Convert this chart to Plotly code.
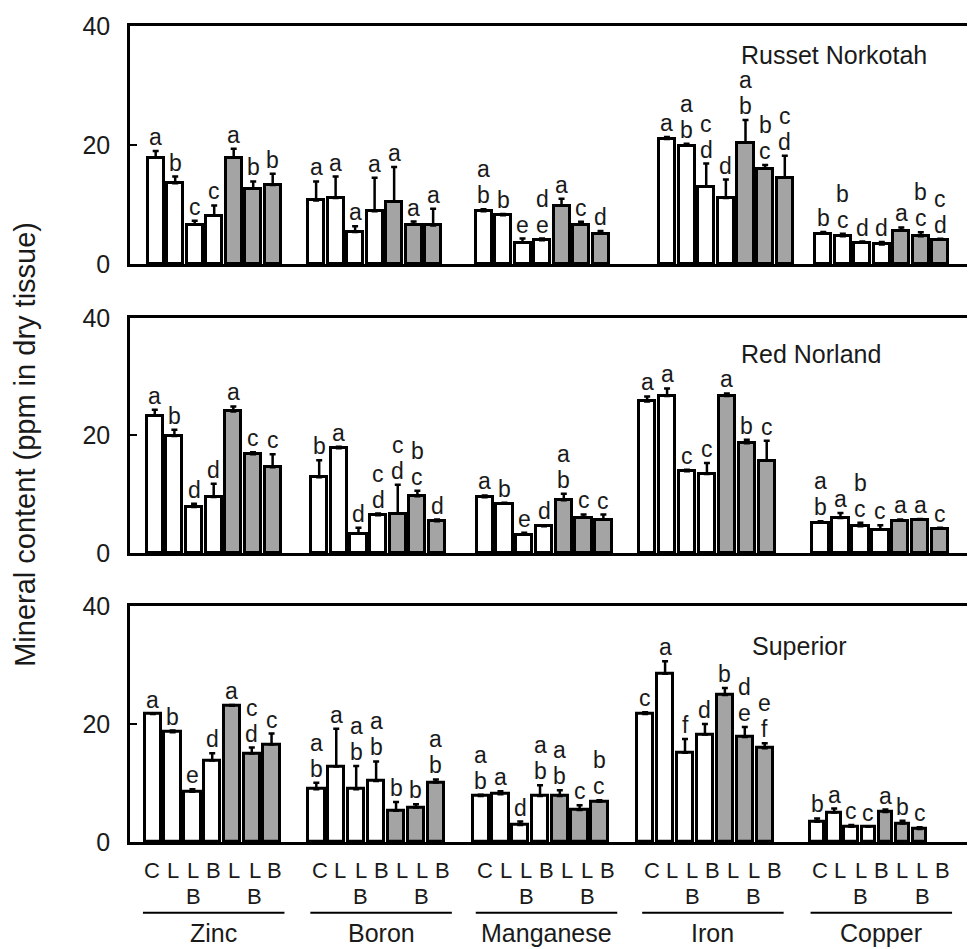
import plotly.graph_objects as go

# ---------------- data ----------------
minerals = ["Zinc", "Boron", "Manganese", "Iron", "Copper"]
row1_labels = ["C", "L", "L", "B", "L", "L", "B"]
row2_labels = ["", "", "B", "", "", "B", ""]
grey_flags = [False, False, False, False, True, True, True]
cultivars = ["Russet Norkotah", "Red Norland", "Superior"]

russet_mean = [
    [17.9, 13.6, 6.6, 8.15, 17.9, 12.7, 13.3],
    [10.7, 11.1, 5.4, 8.9, 10.5, 6.6, 6.5],
    [8.9, 8.2, 3.6, 4.0, 9.8, 6.6, 5.1],
    [21.0, 19.9, 13.0, 11.1, 20.4, 16.0, 14.5],
    [5.1, 4.7, 3.6, 3.3, 5.6, 4.7, 4.1],
]
russet_err = [
    [1.1, 1.1, 0.7, 1.7, 1.5, 1.2, 1.9],
    [3.2, 3.6, 0.95, 5.6, 5.8, 0.56, 2.8],
    [0.3, 0.2, 0.7, 0.3, 1.2, 0.5, 0.45],
    [0.35, 0.3, 3.9, 3.1, 3.8, 0.67, 3.7],
    [0.3, 0.4, 0.2, 0.4, 0.56, 0.67, 0.15],
]
russet_letters = [
    ["a", "b", "c", "c", "a", "b", "b"],
    ["a", "a", "a", "a", "a", "a", "a"],
    ["ab", "b", "e", "de", "a", "c", "d"],
    ["a", "ab", "cd", "d", "ab", "bc", "cd"],
    ["b", "bc", "d", "d", "a", "bc", "cd"],
]

red_mean = [
    [23.4, 19.9, 7.85, 9.55, 24.1, 16.8, 14.6],
    [12.9, 17.85, 3.33, 6.44, 6.72, 9.66, 5.42],
    [9.5, 8.4, 3.16, 4.58, 9.0, 6.0, 5.7],
    [25.8, 26.7, 13.9, 13.45, 26.7, 18.7, 15.7],
    [5.14, 5.98, 4.58, 4.0, 5.54, 5.7, 4.13],
]
red_err = [
    [0.96, 1.07, 0.56, 2.26, 0.85, 0.34, 2.2],
    [2.9, 0.23, 0.96, 0.28, 4.9, 0.96, 0.28],
    [0.3, 0.17, 0.3, 0.17, 1.1, 0.56, 0.85],
    [0.85, 1.3, 0.28, 1.86, 0.45, 0.56, 3.4],
    [0.28, 0.85, 0.56, 0.73, 0.17, 0.1, 0.17],
]
red_letters = [
    ["a", "b", "d", "d", "a", "c", "c"],
    ["b", "a", "d", "cd", "cd", "bc", "d"],
    ["a", "b", "e", "d", "ab", "c", "c"],
    ["a", "a", "c", "c", "a", "b", "c"],
    ["ab", "a", "bc", "c", "a", "a", "c"],
]

sup_mean = [
    [21.7, 18.6, 8.5, 13.8, 23.1, 15.0, 16.5],
    [8.95, 12.8, 8.95, 10.35, 5.29, 5.85, 10.1],
    [7.8, 8.1, 2.87, 7.8, 7.8, 5.4, 6.8],
    [21.7, 28.5, 15.1, 18.2, 24.9, 17.8, 15.9],
    [3.43, 5.0, 2.59, 2.59, 5.1, 3.15, 2.2],
]
sup_err = [
    [0.0, 0.28, 0.45, 1.24, 0.1, 1.0, 1.86],
    [1.1, 6.4, 3.94, 3.3, 1.5, 0.56, 0.5],
    [0.2, 0.5, 0.6, 1.8, 0.96, 0.84, 0.28],
    [0.28, 2.1, 2.36, 1.8, 1.2, 1.7, 0.84],
    [0.56, 0.67, 0.28, 0.0, 0.4, 0.45, 0.28],
]
sup_letters = [
    ["a", "b", "e", "d", "a", "cd", "c"],
    ["ab", "a", "ab", "ab", "b", "b", "ab"],
    ["ab", "a", "d", "ab", "ab", "c", "bc"],
    ["c", "a", "f", "d", "b", "de", "ef"],
    ["b", "a", "c", "c", "a", "b", "c"],
]

y_ticks = [0, 20, 40]

# ---------------- layout constants (page-pixel x units) ----------------
OFF = 8                      # default page body margin
W, H = 975 - OFF, 949 - OFF  # figure size so that it fits the window
PX_L, PX_R, PX_T, PX_B = 130, 971, 23, 842   # plot area in page pixels
ML, MT = PX_L - OFF, PX_T - OFF
MR = 975 - PX_R
MB = 949 - PX_B
plot_h = PX_B - PX_T
plot_w = PX_R - PX_L

group_spans = [
    [(146, 283), (307, 444), (475, 612), (659, 797), (816, 953)],
    [(145, 283), (310, 448), (476, 615), (639, 779), (813, 953)],
    [(143, 282), (307, 447), (472, 611), (637, 777), (811, 931)],
]
panel_px = [(23, 262), (316, 552), (605, 842)]  # top, bottom in page pixels


def to_paper(ypix):
    return (PX_B - ypix) / plot_h


label_centers = [214, 382, 548, 715, 884]
label_pitch = 20.5

FONT = "Liberation Sans, Arial, Helvetica, sans-serif"
TXT = "#1a1a1a"
GREY = "#a4a4a4"

means = [russet_mean, red_mean, sup_mean]
errs = [russet_err, red_err, sup_err]
letters = [russet_letters, red_letters, sup_letters]
title_pos = [(837, 35.1), (813, 33.9), (802, 33.2)]

fig = go.Figure()
annotations = []
shapes = []

for k in range(3):
    xs, ys, es, ws, cols = [], [], [], [], []
    xa = "x" if k == 0 else f"x{k+1}"
    ya = "y" if k == 0 else f"y{k+1}"
    for g in range(5):
        s, e = group_spans[k][g]
        p = (e - s) / 7.0
        for i in range(7):
            cx = s + p / 2 + i * p
            xs.append(cx)
            ys.append(means[k][g][i])
            es.append(errs[k][g][i])
            ws.append(p - 3.5)
            cols.append(GREY if grey_flags[i] else "white")
            lt = letters[k][g][i]
            top = means[k][g][i] + errs[k][g][i]
            for j, ch in enumerate(reversed(lt)):
                annotations.append(dict(
                    x=cx, y=top, xref=xa, yref=ya, text=ch, showarrow=False,
                    yanchor="bottom", xanchor="center", yshift=j * 26,
                    borderpad=0,
                    font=dict(family=FONT, size=23, color=TXT)))
    fig.add_trace(go.Bar(
        x=xs, y=ys, width=ws, xaxis=xa, yaxis=ya,
        marker=dict(color=cols, line=dict(color="black", width=3)),
        error_y=dict(type="data", array=es, arrayminus=[0] * len(es),
                     symmetric=False, color="black", thickness=2.5, width=3),
        showlegend=False, hoverinfo="skip"))
    tx, ty = title_pos[k]
    annotations.append(dict(x=tx, y=ty, xref=xa, yref=ya, text=cultivars[k],
                            showarrow=False, xanchor="center", yanchor="middle",
                            font=dict(family=FONT, size=25, color=TXT)))

# bottom treatment labels and group names
for g in range(5):
    c = label_centers[g]
    for i in range(7):
        x = c + (i - 3) * label_pitch
        annotations.append(dict(x=x, y=to_paper(871), xref="x3", yref="paper",
                                text=row1_labels[i], showarrow=False,
                                yanchor="middle", xanchor="center", borderpad=0,
                                font=dict(family=FONT, size=22, color=TXT)))
        if row2_labels[i]:
            annotations.append(dict(x=x, y=to_paper(897), xref="x3", yref="paper",
                                    text=row2_labels[i], showarrow=False,
                                    yanchor="middle", xanchor="center", borderpad=0,
                                    font=dict(family=FONT, size=22, color=TXT)))
    shapes.append(dict(type="line", xref="x3", yref="paper", x0=c - 71, x1=c + 71,
                       y0=to_paper(913), y1=to_paper(913),
                       line=dict(color="black", width=2)))
    annotations.append(dict(x=c, y=to_paper(933), xref="x3", yref="paper",
                            text=minerals[g], showarrow=False, yanchor="middle",
                            xanchor="center", borderpad=0,
                            font=dict(family=FONT, size=25, color=TXT)))

annotations.append(dict(x=(25 - PX_L) / plot_w, y=to_paper(443), xref="paper",
                        yref="paper", text="Mineral content (ppm in dry tissue)",
                        textangle=-90, showarrow=False, xanchor="center",
                        yanchor="middle", font=dict(family=FONT, size=29, color=TXT)))

layout = dict(
    width=W, height=H, autosize=False,
    margin=dict(l=ML, r=MR, t=MT, b=MB, pad=0),
    paper_bgcolor="white", plot_bgcolor="white",
    barmode="overlay", bargap=0,
    annotations=annotations, shapes=shapes,
)
for k in range(3):
    top, bot = panel_px[k]
    xkey = "xaxis" if k == 0 else f"xaxis{k+1}"
    ykey = "yaxis" if k == 0 else f"yaxis{k+1}"
    ya = "y" if k == 0 else f"y{k+1}"
    xa = "x" if k == 0 else f"x{k+1}"
    layout[xkey] = dict(range=[PX_L, PX_R], domain=[0, 1], anchor=ya,
                        showticklabels=False, ticks="", showgrid=False,
                        zeroline=False, showline=True, mirror=True,
                        linecolor="black", linewidth=2.5, fixedrange=True)
    layout[ykey] = dict(range=[0, 40], domain=[to_paper(bot), to_paper(top)],
                        anchor=xa, tickvals=y_ticks, ticks="inside", ticklen=7,
                        tickwidth=2, tickcolor="black", showgrid=False,
                        zeroline=False, showline=True, mirror=True,
                        linecolor="black", linewidth=2.5, ticklabelstandoff=12,
                        tickfont=dict(family=FONT, size=25, color=TXT),
                        fixedrange=True)

fig.update_layout(**layout)
fig.write_html("out.html")
